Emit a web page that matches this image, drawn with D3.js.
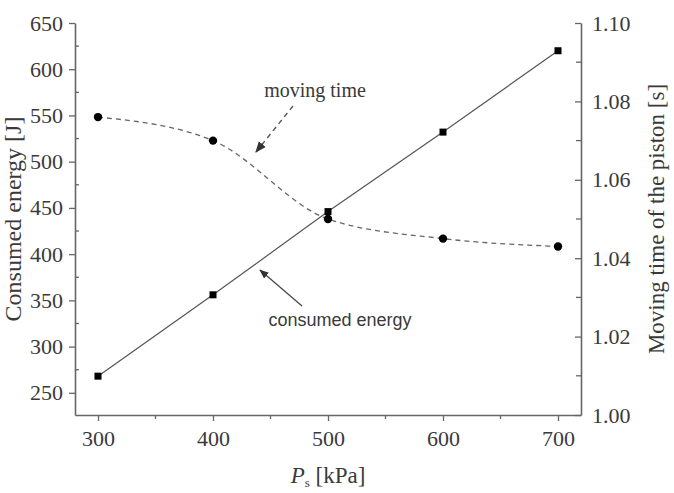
<!DOCTYPE html>
<html>
<head>
<meta charset="utf-8">
<script src="https://cdn.jsdelivr.net/npm/d3@7"></script>
<style>
  body { margin: 0; background: #fff; }
  svg text { fill: #3a3a3a; }
</style>
</head>
<body>
<div id="chart"></div>
<script>
// 数据
const pressure = [300, 400, 500, 600, 700];             // P_s [kPa]
const energy = [268, 356, 446, 532, 620];               // Consumed energy [J]
const movingTime = [1.076, 1.070, 1.050, 1.045, 1.043]; // Moving time [s]
const xTicks = [300, 400, 500, 600, 700];
const yLeftTicks = [250, 300, 350, 400, 450, 500, 550, 600, 650];
const yRightTicks = [1.00, 1.02, 1.04, 1.06, 1.08, 1.10];

const width = 674, height = 493;
const margin = { top: 23, right: 93, bottom: 78, left: 75 };

const svg = d3.select('#chart').append('svg')
    .attr('width', width)
    .attr('height', height);

// 比例尺
const x = d3.scaleLinear().domain([280, 720]).range([margin.left, width - margin.right]);
const yL = d3.scaleLinear().domain([226, 650]).range([height - margin.bottom, margin.top]);
const yR = d3.scaleLinear().domain([1.00, 1.10]).range([height - margin.bottom, margin.top]);

const axisColor = '#666';
const serif = 'Liberation Serif, Times New Roman, serif';

// 次刻度
const xMinor = d3.range(350, 720, 100);
const yLMinor = d3.range(275, 650, 50);
const yRMinor = d3.range(1.01, 1.10, 0.02);

// 底部坐标轴
const gx = svg.append('g').attr('transform', `translate(0,${height - margin.bottom})`);
gx.call(d3.axisBottom(x).tickValues(xTicks).tickSize(6).tickPadding(9).tickSizeOuter(0));
gx.selectAll('.minor').data(xMinor).enter().append('line')
    .attr('x1', d => x(d)).attr('x2', d => x(d)).attr('y1', 0).attr('y2', 4);

// 左坐标轴
const gl = svg.append('g').attr('transform', `translate(${margin.left},0)`);
gl.call(d3.axisLeft(yL).tickValues(yLeftTicks).tickSize(6).tickPadding(6).tickSizeOuter(0));
gl.selectAll('.minor').data(yLMinor).enter().append('line')
    .attr('x1', 0).attr('x2', 4).attr('y1', d => yL(d)).attr('y2', d => yL(d));

// 右坐标轴（刻度朝内）
const gr = svg.append('g').attr('transform', `translate(${width - margin.right},0)`);
gr.call(d3.axisRight(yR).tickValues(yRightTicks).tickFormat(d3.format('.2f'))
    .tickSize(-6).tickPadding(11).tickSizeOuter(0));
gr.selectAll('.minor').data(yRMinor).enter().append('line')
    .attr('x1', 0).attr('x2', -5).attr('y1', d => yR(d)).attr('y2', d => yR(d));

[gx, gl, gr].forEach(g => {
    g.select('.domain').attr('stroke', axisColor).attr('stroke-width', 1.6);
    g.selectAll('line').attr('stroke', axisColor).attr('stroke-width', 1.3);
    g.selectAll('text').attr('font-family', serif).attr('font-size', 22).attr('fill', '#3a3a3a');
});

// 能耗曲线（实线 + 方块）
const energyLine = d3.line().x((d, i) => x(pressure[i])).y(d => yL(d));
svg.append('path').datum(energy)
    .attr('d', energyLine)
    .attr('fill', 'none').attr('stroke', '#555').attr('stroke-width', 1.2);
svg.selectAll('.sq').data(energy).enter().append('rect')
    .attr('x', (d, i) => x(pressure[i]) - 3.5)
    .attr('y', d => yL(d) - 3.5)
    .attr('width', 7).attr('height', 7)
    .attr('fill', '#000');

// 移动时间曲线（虚线 + 圆点）
const timeLine = d3.line().x((d, i) => x(pressure[i])).y(d => yR(d))
    .curve(d3.curveMonotoneX);
svg.append('path').datum(movingTime)
    .attr('d', timeLine)
    .attr('fill', 'none').attr('stroke', '#666').attr('stroke-width', 1.3)
    .attr('stroke-dasharray', '5,4');
svg.selectAll('.dot').data(movingTime).enter().append('circle')
    .attr('cx', (d, i) => x(pressure[i]))
    .attr('cy', d => yR(d))
    .attr('r', 4.2)
    .attr('fill', '#000');

// 箭头
const defs = svg.append('defs');
defs.append('marker').attr('id', 'arrow')
    .attr('viewBox', '0 0 10 10').attr('refX', 9).attr('refY', 5)
    .attr('markerWidth', 8).attr('markerHeight', 8).attr('orient', 'auto')
    .append('path').attr('d', 'M0,1 L10,5 L0,9 Z').attr('fill', '#333');

svg.append('line')
    .attr('x1', 293).attr('y1', 106).attr('x2', 256).attr('y2', 152)
    .attr('stroke', '#555').attr('stroke-width', 1.4).attr('stroke-dasharray', '5,4')
    .attr('marker-end', 'url(#arrow)');
svg.append('text').attr('x', 315).attr('y', 97).attr('text-anchor', 'middle')
    .attr('font-family', serif).attr('font-size', 20).text('moving time');

svg.append('line')
    .attr('x1', 302).attr('y1', 306).attr('x2', 260).attr('y2', 270)
    .attr('stroke', '#444').attr('stroke-width', 1.2)
    .attr('marker-end', 'url(#arrow)');
svg.append('text').attr('x', 340).attr('y', 326).attr('text-anchor', 'middle')
    .attr('font-family', 'Liberation Sans, Arial, sans-serif').attr('font-size', 18)
    .text('consumed energy');

// 坐标轴标题
svg.append('text')
    .attr('transform', `translate(21,${(margin.top + height - margin.bottom) / 2}) rotate(-90)`)
    .attr('text-anchor', 'middle').attr('font-family', serif).attr('font-size', 24)
    .text('Consumed energy [J]');
svg.append('text')
    .attr('transform', `translate(664,${(margin.top + height - margin.bottom) / 2}) rotate(-90)`)
    .attr('text-anchor', 'middle').attr('font-family', serif).attr('font-size', 23)
    .text('Moving time of the piston [s]');

const xl = svg.append('text').attr('x', 328).attr('y', 483).attr('text-anchor', 'middle')
    .attr('font-family', serif).attr('font-size', 23);
xl.append('tspan').attr('font-style', 'italic').text('P');
xl.append('tspan').attr('font-size', 13).attr('dy', 4).text('s');
xl.append('tspan').attr('dy', -4).text(' [kPa]');
</script>
</body>
</html>
